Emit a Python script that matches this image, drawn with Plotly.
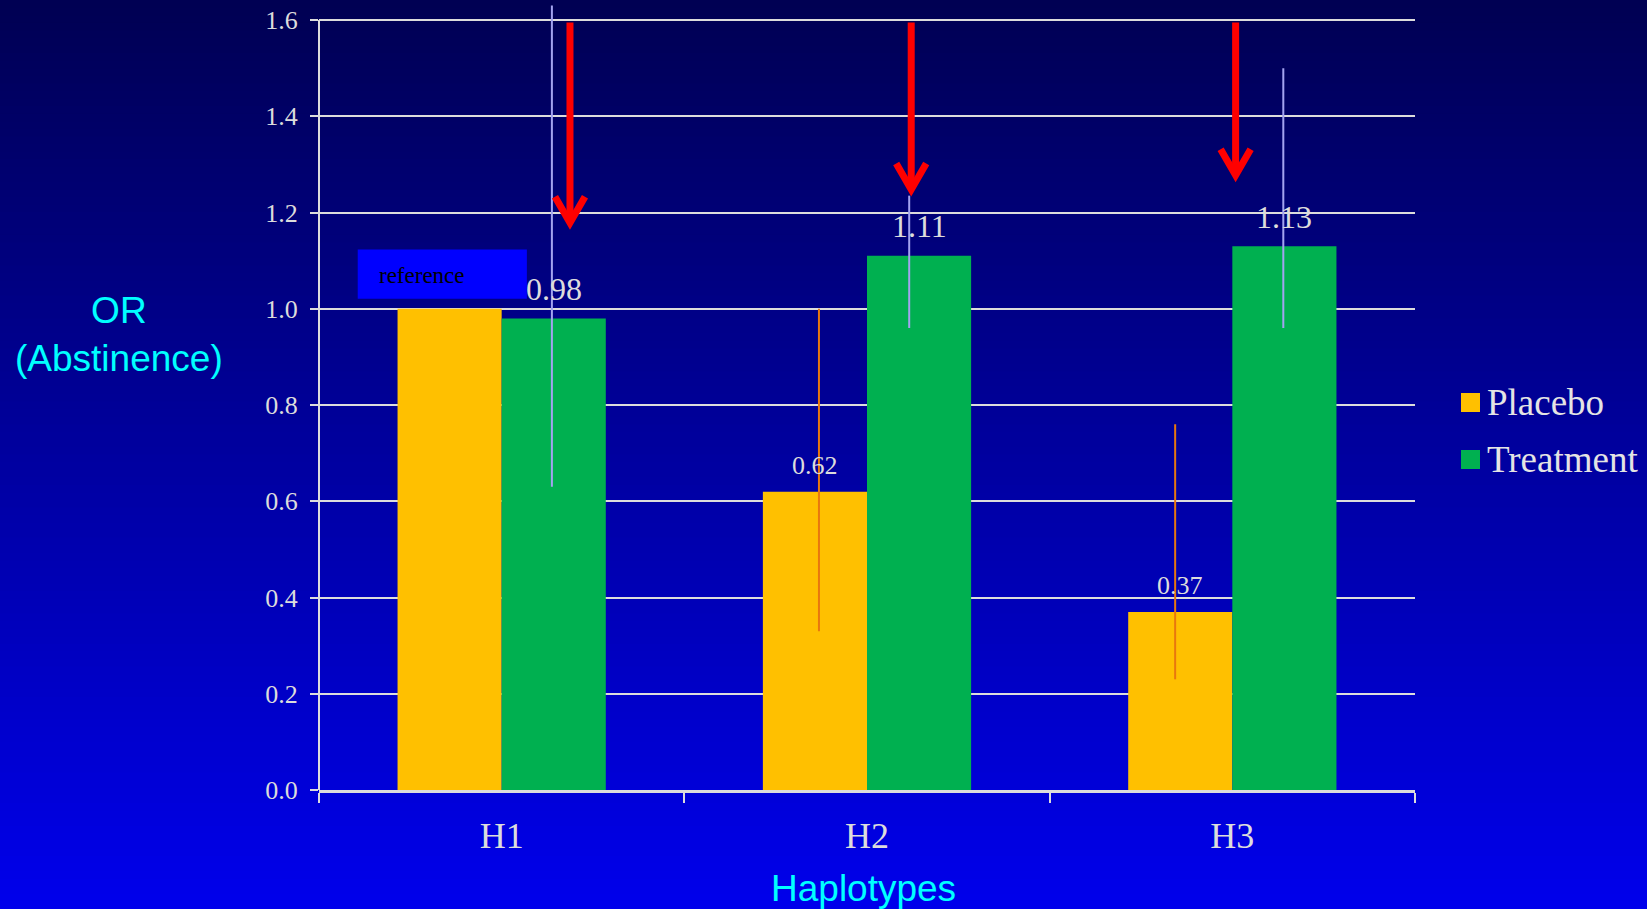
import plotly.graph_objects as go

# ---- data -------------------------------------------------------------
haplotypes = ["H1", "H2", "H3"]
series_names = ["Placebo", "Treatment"]

placebo_or = [1.00, 0.62, 0.37]
treatment_or = [0.98, 1.11, 1.13]

# confidence limits (H1 placebo is the reference level, no interval)
placebo_ci_low = [None, 0.33, 0.23]
placebo_ci_high = [None, 1.00, 0.76]
treatment_ci_low = [0.63, 0.96, 0.96]
treatment_ci_high = [1.63, 1.235, 1.50]

y_tick_values = [0.0, 0.2, 0.4, 0.6, 0.8, 1.0, 1.2, 1.4, 1.6]

# highlight arrows: haplotype, offset within the category, value at the tip
arrow_haplotypes = ["H1", "H2", "H3"]
arrow_offsets = [0.187, 0.121, 0.009]
arrow_tips = [1.164, 1.233, 1.263]
arrow_top = 1.595

reference_label = "reference"

# ---- styling ----------------------------------------------------------
W, H = 1647, 909
ML, MR, MT, MB = 319, 232, 3, 119
PW, PH = W - ML - MR, H - MT - MB
PX_PER_UNIT = 481.25                 # vertical scale of the value axis
Y_AXIS_TOP = y_tick_values[-1]       # axis line and grid stop here
Y_RANGE_TOP = PH / PX_PER_UNIT       # a little headroom for the whiskers

PLACEBO_COLOR = "#FFC000"
TREATMENT_COLOR = "#00B050"
PLACEBO_ERR = "#E8780E"
TREATMENT_ERR = "#A3A3F0"
LIGHT = "#DCDCDC"
CYAN = "#00FFFF"
SERIF = "Liberation Serif, Times New Roman, serif"
SANS = "Liberation Sans, Arial, sans-serif"

BARGAP = 0.43
bar_half = (1 - BARGAP) / 4  # centre offset of each bar in a group

# small horizontal nudges of the interval whiskers (category units)
PLACEBO_WHISKER_NUDGE = [0.0, 0.011, -0.014]
TREATMENT_WHISKER_NUDGE = [-0.005, -0.027, -0.003]


def paper_x(px):
    return (px - ML) / PW


def paper_y(py):
    return (H - MB - py) / PH


def whisker_trace(vals, low, high, offset, nudges, color):
    xs, ys, plus, minus = [], [], [], []
    for i, (v, lo, hi) in enumerate(zip(vals, low, high)):
        if lo is None or hi is None:
            continue
        xs.append(i + offset + nudges[i])
        ys.append(v)
        plus.append(hi - v)
        minus.append(v - lo)
    return go.Scatter(
        x=xs, y=ys, xaxis="x2", yaxis="y", mode="markers",
        marker=dict(size=1, opacity=0),
        error_y=dict(type="data", symmetric=False, array=plus, arrayminus=minus,
                     color=color, thickness=2, width=0),
        showlegend=False, hoverinfo="skip",
    )


fig = go.Figure()
fig.add_trace(go.Bar(
    name=series_names[0], x=haplotypes, y=placebo_or,
    marker=dict(color=PLACEBO_COLOR, line=dict(width=0)), showlegend=False,
))
fig.add_trace(go.Bar(
    name=series_names[1], x=haplotypes, y=treatment_or,
    marker=dict(color=TREATMENT_COLOR, line=dict(width=0)), showlegend=False,
))
fig.add_trace(whisker_trace(placebo_or, placebo_ci_low, placebo_ci_high,
                            -bar_half, PLACEBO_WHISKER_NUDGE, PLACEBO_ERR))
fig.add_trace(whisker_trace(treatment_or, treatment_ci_low, treatment_ci_high,
                            bar_half, TREATMENT_WHISKER_NUDGE, TREATMENT_ERR))

shapes = []
annotations = []

# vertical background gradient, dark navy at the top to bright blue below
top_blue, bottom_blue = 82, 236
n_strips = 120
for i in range(n_strips):
    y_top = H * i / n_strips
    y_bot = H * (i + 1) / n_strips + 1.5
    f = (i + 0.5) / n_strips
    b = round(top_blue + (bottom_blue - top_blue) * f)
    shapes.append(dict(
        type="rect", xref="paper", yref="paper",
        x0=paper_x(-2), x1=paper_x(W + 2),
        y0=paper_y(min(y_bot, H + 2)), y1=paper_y(y_top - (2 if i == 0 else 0)),
        fillcolor=f"rgb(0,0,{b})", line=dict(width=0), layer="below",
    ))

# value axis line, stopping at the top tick
shapes.append(dict(
    type="line", xref="paper", yref="y", x0=0, x1=0, y0=0, y1=Y_AXIS_TOP,
    line=dict(color=LIGHT, width=2), layer="below",
))

# value labels above the bars (the reference level carries a tag instead)
label_specs = [
    (placebo_or, placebo_ci_low, -bar_half, 26, 26.5),
    (treatment_or, treatment_ci_low, bar_half, 32, 29.5),
]
for vals, lows, off, size, gap in label_specs:
    for i, (v, lo) in enumerate(zip(vals, lows)):
        if lo is None:
            continue
        annotations.append(dict(
            x=i + off, y=v, xref="x", yref="y", text=f"{v:.2f}",
            showarrow=False, xanchor="center", yanchor="middle", yshift=gap,
            font=dict(family=SERIF, size=size, color=LIGHT),
        ))

# "reference" tag over the H1 placebo bar
shapes.append(dict(
    type="rect", xref="x", yref="y",
    x0=-0.394, x1=0.069, y0=1.021, y1=1.123,
    fillcolor="#0000FF", line=dict(width=0), layer="above",
))
annotations.append(dict(
    x=-0.342, y=1.069, xref="x", yref="y", text=reference_label,
    showarrow=False, xanchor="left", yanchor="middle",
    font=dict(family=SERIF, size=23, color="#000000"),
))

# red highlight arrows
for cat, dx, tip in zip(arrow_haplotypes, arrow_offsets, arrow_tips):
    xi = haplotypes.index(cat) + dx
    shapes.append(dict(
        type="line", xref="x", yref="y", x0=xi, x1=xi,
        y0=tip + 0.021, y1=arrow_top,
        line=dict(color="#FF0000", width=7), layer="above",
    ))
    shapes.append(dict(
        type="path", xref="x", yref="y",
        xsizemode="pixel", ysizemode="pixel", xanchor=xi, yanchor=tip,
        path="M -15,33 L 0,7 L 15,33",
        line=dict(color="#FF0000", width=7), layer="above",
    ))

# legend
legend_rows = [(series_names[0], PLACEBO_COLOR, 402.5), (series_names[1], TREATMENT_COLOR, 459.5)]
for name, color, cy in legend_rows:
    shapes.append(dict(
        type="rect", xref="paper", yref="paper",
        x0=paper_x(1461), x1=paper_x(1480),
        y0=paper_y(cy + 9.5), y1=paper_y(cy - 9.5),
        fillcolor=color, line=dict(width=0), layer="above",
    ))
    annotations.append(dict(
        x=paper_x(1485), y=paper_y(cy), xref="paper", yref="paper",
        text=name, showarrow=False, xanchor="left", yanchor="middle",
        font=dict(family=SERIF, size=37, color="#E4E4E4"),
    ))

# axis titles
annotations.append(dict(
    x=paper_x(119), y=paper_y(335), xref="paper", yref="paper",
    text="OR<br>(Abstinence)", showarrow=False, xanchor="center", yanchor="middle",
    align="center", font=dict(family=SANS, size=37, color=CYAN),
))
annotations.append(dict(
    x=paper_x(863), y=paper_y(888), xref="paper", yref="paper",
    text="Haplotypes", showarrow=False, xanchor="center", yanchor="middle",
    font=dict(family=SANS, size=37, color=CYAN),
))

fig.update_layout(
    width=W, height=H,
    margin=dict(l=ML, r=MR, t=MT, b=MB, autoexpand=False),
    paper_bgcolor="rgb(0,0,150)",
    plot_bgcolor="rgba(0,0,0,0)",
    barmode="group", bargap=BARGAP, bargroupgap=0,
    showlegend=False,
    shapes=shapes, annotations=annotations,
    xaxis=dict(
        type="category", categoryorder="array", categoryarray=haplotypes,
        range=[-0.5, len(haplotypes) - 0.5],
        tickson="boundaries", ticks="outside", ticklen=10, tickwidth=2, tickcolor=LIGHT,
        showline=True, linecolor=LIGHT, linewidth=3, showgrid=False,
        tickfont=dict(family=SERIF, size=36, color=LIGHT),
        ticklabelstandoff=12, automargin=False,
    ),
    xaxis2=dict(
        overlaying="x", anchor="y", range=[-0.5, len(haplotypes) - 0.5],
        visible=False, showgrid=False, zeroline=False,
    ),
    yaxis=dict(
        range=[0, Y_RANGE_TOP], tickvals=y_tick_values, tickformat=".1f",
        ticks="outside", ticklen=8, tickwidth=2, tickcolor=LIGHT,
        showline=False,
        showgrid=True, gridcolor=LIGHT, gridwidth=2, zeroline=False,
        tickfont=dict(family=SERIF, size=26, color=LIGHT),
        ticklabelstandoff=7, automargin=False,
    ),
)

fig.write_html("out.html")
